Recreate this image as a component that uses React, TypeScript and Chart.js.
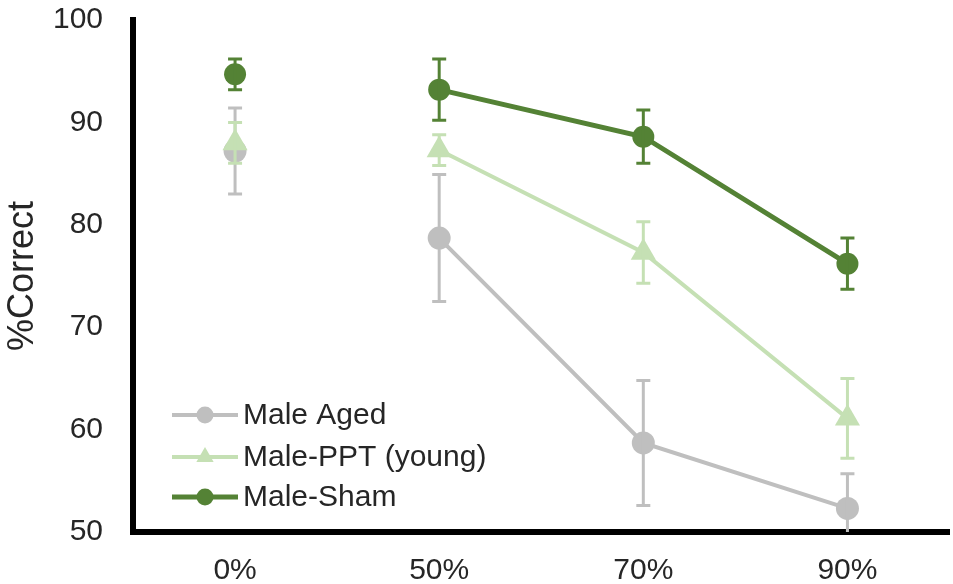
import { useEffect, useRef } from 'react';
import { Chart, registerables } from 'chart.js';

Chart.register(...registerables);

const categories = ['0%', '50%', '70%', '90%'];

const seriesNames = ['Male Aged', 'Male-PPT (young)', 'Male-Sham'];

const agedValues = [87.2, 78.7, 58.7, 52.3];
const agedErr = [4.2, 6.2, 6.1, 3.4];

const pptValues = [88.0, 87.3, 77.3, 61.1];
const pptErr = [2.0, 1.5, 3.0, 3.9];

const shamValues = [94.7, 93.2, 88.6, 76.2];
const shamErr = [1.5, 3.0, 2.6, 2.5];

const yTicks = [50, 60, 70, 80, 90, 100];

const GRAY = '#bfbfbf';
const LIGHT = '#c5e0b4';
const DARK = '#548235';
const TEXT = '#262626';
const FONT = '"Liberation Sans", Arial, sans-serif';

// error bars drawn after each dataset, clipped to the plot area
const errorBarPlugin = {
  id: 'errorBars',
  afterDatasetDraw(chart: any, args: any) {
    const ds = chart.data.datasets[args.index];
    const errs: number[] = ds.errors || [];
    const meta = args.meta;
    const y = chart.scales.y;
    const area = chart.chartArea;
    const ctx = chart.ctx;
    ctx.save();
    ctx.beginPath();
    ctx.rect(area.left, area.top - 20, area.right - area.left, area.bottom - area.top + 20);
    ctx.clip();
    ctx.strokeStyle = ds.borderColor;
    ctx.lineWidth = 3;
    meta.data.forEach((pt: any, i: number) => {
      const v = ds.data[i];
      const e = errs[i];
      if (v == null || e == null) return;
      const top = y.getPixelForValue(v + e);
      const bot = y.getPixelForValue(v - e);
      ctx.beginPath();
      ctx.moveTo(pt.x, top);
      ctx.lineTo(pt.x, bot);
      ctx.moveTo(pt.x - 7, top);
      ctx.lineTo(pt.x + 7, top);
      ctx.moveTo(pt.x - 7, bot);
      ctx.lineTo(pt.x + 7, bot);
      ctx.stroke();
    });
    ctx.restore();
  },
};

// legend inside the plot, lower left
const insideLegendPlugin = {
  id: 'insideLegend',
  afterDraw(chart: any) {
    const ctx = chart.ctx;
    const area = chart.chartArea;
    const x0 = area.left + 39;
    const rows = [117, 75, 35];
    ctx.save();
    chart.data.datasets.forEach((ds: any, i: number) => {
      const yy = area.bottom - rows[i];
      ctx.strokeStyle = ds.borderColor;
      ctx.fillStyle = ds.borderColor;
      ctx.lineWidth = ds.borderWidth;
      ctx.beginPath();
      ctx.moveTo(x0, yy);
      ctx.lineTo(x0 + 66, yy);
      ctx.stroke();
      const cx = x0 + 33;
      ctx.beginPath();
      if (ds.pointStyle === 'triangle') {
        const r = 10;
        ctx.moveTo(cx, yy - r);
        ctx.lineTo(cx + r * 0.866, yy + r / 2);
        ctx.lineTo(cx - r * 0.866, yy + r / 2);
        ctx.closePath();
      } else {
        ctx.arc(cx, yy, 8.5, 0, Math.PI * 2);
      }
      ctx.fill();
      ctx.fillStyle = TEXT;
      ctx.font = `30px ${FONT}`;
      ctx.textBaseline = 'middle';
      ctx.textAlign = 'left';
      ctx.fillText(ds.label, x0 + 71, yy + 1);
    });
    ctx.restore();
  },
};

const skipFirst = (color: string) => ({
  borderColor: (c: any) => (c.p0DataIndex === 0 ? 'rgba(0,0,0,0)' : color),
});

const noPad = (s: any) => {
  s.paddingTop = 0;
  s.paddingBottom = 0;
  s.paddingLeft = 0;
  s.paddingRight = 0;
};

const App = () => {
  const canvasRef = useRef<HTMLCanvasElement>(null);
  const chartRef = useRef<Chart | null>(null);

  useEffect(() => {
    document.body.style.margin = '0';
    if (!canvasRef.current) return;
    if (chartRef.current) chartRef.current.destroy();

    chartRef.current = new Chart(canvasRef.current, {
      type: 'line',
      data: {
        labels: categories,
        datasets: [
          {
            label: seriesNames[0],
            data: agedValues,
            errors: agedErr,
            borderColor: GRAY,
            backgroundColor: GRAY,
            borderWidth: 4,
            pointStyle: 'circle',
            pointRadius: 11.5,
            pointBorderWidth: 0,
            segment: skipFirst(GRAY),
            order: 3,
          },
          {
            label: seriesNames[1],
            data: pptValues,
            errors: pptErr,
            borderColor: LIGHT,
            backgroundColor: LIGHT,
            borderWidth: 4,
            pointStyle: 'triangle',
            pointRadius: 14.5,
            pointBorderWidth: 0,
            segment: skipFirst(LIGHT),
            order: 2,
          },
          {
            label: seriesNames[2],
            data: shamValues,
            errors: shamErr,
            borderColor: DARK,
            backgroundColor: DARK,
            borderWidth: 5,
            pointStyle: 'circle',
            pointRadius: 11,
            pointBorderWidth: 0,
            segment: skipFirst(DARK),
            order: 1,
          },
        ] as any,
      },
      options: {
        animation: false,
        responsive: false,
        maintainAspectRatio: false,
        layout: { padding: { left: 0, top: 20, right: 0, bottom: 0 } },
        plugins: {
          legend: { display: false },
          tooltip: { enabled: false },
        },
        scales: {
          x: {
            offset: true,
            grid: { display: false, drawTicks: false, offset: true },
            border: { color: '#000', width: 6 },
            ticks: {
              color: TEXT,
              font: { family: FONT, size: 30 },
              padding: 21,
            },
            afterFit: (s: any) => {
              s.height = 52;
              noPad(s);
            },
          },
          y: {
            min: 50,
            max: 100,
            afterBuildTicks: (s: any) => {
              s.ticks = yTicks.map((v) => ({ value: v }));
            },
            grid: { display: false, drawTicks: false },
            border: { color: '#000', width: 6 },
            ticks: {
              color: TEXT,
              font: { family: FONT, size: 30 },
              padding: 30,
            },
            title: {
              display: true,
              text: '%Correct',
              color: TEXT,
              font: { family: FONT, size: 36 },
              padding: { top: 1, bottom: 0 },
            },
            afterFit: (s: any) => {
              s.width = 133;
              noPad(s);
            },
          },
        },
      },
      plugins: [errorBarPlugin, insideLegendPlugin],
    });

    return () => {
      if (chartRef.current) {
        chartRef.current.destroy();
        chartRef.current = null;
      }
    };
  }, []);

  return (
    <div style={{ width: 953, height: 584, background: '#fff', overflow: 'hidden' }}>
      <canvas ref={canvasRef} width={964} height={584} />
    </div>
  );
};

export default App;
